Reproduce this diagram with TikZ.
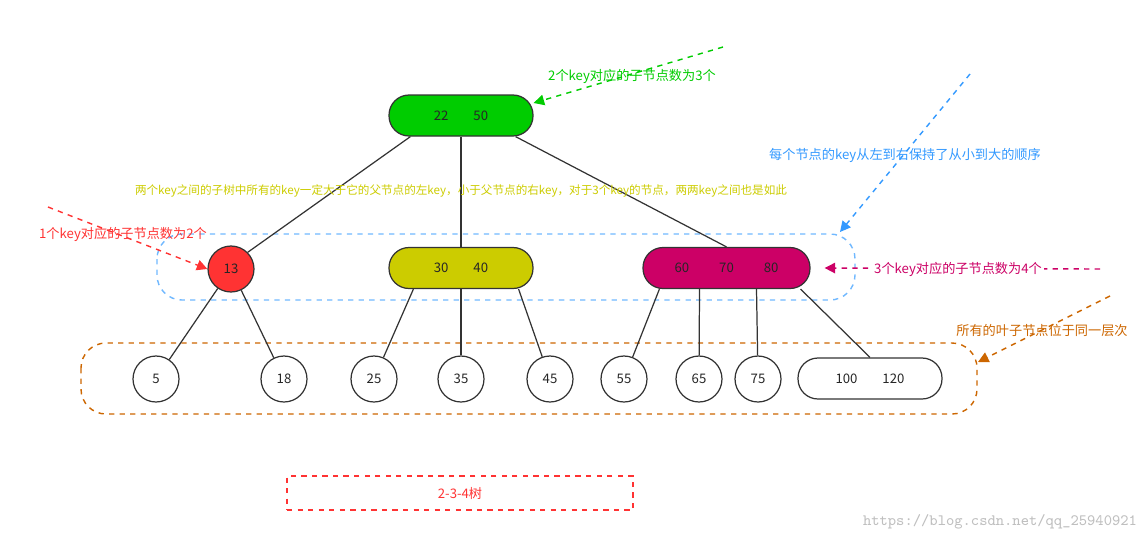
\documentclass[tikz,border=0pt]{standalone}
\usepackage{fontspec}
\setmainfont{Noto Sans CJK SC}
\usetikzlibrary{arrows.meta}
\definecolor{kgreen}{RGB}{0,204,0}
\definecolor{kolive}{RGB}{204,204,0}
\definecolor{kmag}{RGB}{204,0,102}
\definecolor{kred}{RGB}{255,51,51}
\definecolor{kblue}{RGB}{51,153,255}
\definecolor{korange}{RGB}{204,102,0}
\begin{document}
\begin{tikzpicture}[
x=0.02cm, y=-0.02cm,
>={Triangle[length=6pt,width=6pt]},
line/.style={draw, color=black!80, line width=0.7pt},
key/.style={draw, color=black!80, text=black!85, line width=0.7pt, circle, minimum size=0.92cm, inner sep=0pt, font=\fontsize{7.5}{9}\selectfont},
pill/.style={draw, color=black!80, text=black!85, line width=0.7pt, rounded corners=0.4cm, minimum width=2.88cm, minimum height=0.82cm, inner sep=0pt, font=\fontsize{7.5}{9}\selectfont},
group/.style={draw, dashed, line width=0.8pt, rounded corners=0.5cm},
note/.style={font=\fontsize{7.5}{9}\selectfont},
hint/.style={draw, dashed, line width=0.8pt, ->},
]
\useasboundingbox (0,0) rectangle (1142,542);

%groups
\draw[group, color=kblue!70] (157,234) rectangle (855,300);
\draw[group, color=korange] (81,343) rectangle (977,414);

\node[pill, fill=kgreen] (root) at (461,115.5) {22\hspace{0.5cm}50};

\node[key, fill=kred] (k13) at (231,269) {13};
\node[pill, fill=kolive] (k3040) at (461,268) {30\hspace{0.5cm}40};
\node[pill, fill=kmag, minimum width=3.34cm] (k607080) at (726.5,268) {60\hspace{0.6cm}70\hspace{0.6cm}80};

\node[key] (k5) at (156,379) {5};
\node[key] (k18) at (284,379) {18};
\node[key] (k25) at (374,379) {25};
\node[key] (k35) at (461,379) {35};
\node[key] (k45) at (550,379) {45};
\node[key] (k55) at (624,379) {55};
\node[key] (k65) at (699,379) {65};
\node[key] (k75) at (758,379) {75};
\node[pill, minimum width=2.88cm] (k100) at (870,378.5) {100\hspace{0.5cm}120};

\path[line] (root.south west) ++(22,0) -- (k13.north east);
\path[line] (root) -- (k3040);
\path[line] (root.south east) ++(-18,0) -- (k607080.north);

\path[line] (k13) -- (k5);
\path[line] (k13) -- (k18);

\path[line] (k3040.south west) ++(25,0) -- (k25);
\path[line] (k3040) -- (k35);
\path[line] (k3040.south east) ++(-15,0) -- (k45);

\path[line] (k607080.south west) ++(17,0) -- (k55);
\path[line] (k607080.south) ++(-27,0) -- (k65);
\path[line] (k607080.south) ++(30,0) -- (k75);
\path[line] (k607080.south east) ++(-10,0) -- (k100.north);

%notes
\node[note, text=kgreen] (n3) at (632,76) {2个key对应的子节点数为3个};
\coordinate (a3) at (723,47);
\draw[hint, color=kgreen] (a3) -- (root.east |- 0,103);

\node[note, text=kblue] (norder) at (905,155) {每个节点的key从左到右保持了从小到大的顺序};
\coordinate (aorder) at (970,74);
\coordinate (border) at (840,232);
\draw[hint, color=kblue] (aorder) -- (border);

\node[note, text=kolive, font=\fontsize{6.6}{8}\selectfont] (nsub) at (461,191) {两个key之间的子树中所有的key一定大于它的父节点的左key，小于父节点的右key，对于3个key的节点，两两key之间也是如此};

\coordinate (a2) at (48,207);
\draw[hint, color=kred] (a2) -- (k13.west);
\node[note, text=kred] (n2) at (123,234) {1个key对应的子节点数为2个};

\coordinate (a4) at (1100,269);
\draw[hint, color=kmag] (a4) -- ([xshift=8]k607080.east);
\node[note, text=kmag, fill=white, inner sep=1pt] (n4) at (958,269) {3个key对应的子节点数为4个};

\node[note, text=korange] (nleaf) at (1042,330) {所有的叶子节点位于同一层次};
\coordinate (aleaf) at (1110,296);
\coordinate (bleaf) at (978,362);
\draw[hint, color=korange] (aleaf) -- (bleaf);

%title
\node[draw, dashed, color=kred, line width=0.8pt, minimum width=6.92cm, minimum height=0.68cm, note] (title) at (460,493) {2-3-4树};

\node[font=\ttfamily\fontsize{9}{10}\selectfont, text=black!25] (mark) at (1000,522) {https://blog.csdn.net/qq\_25940921};
\end{tikzpicture}
\end{document}
